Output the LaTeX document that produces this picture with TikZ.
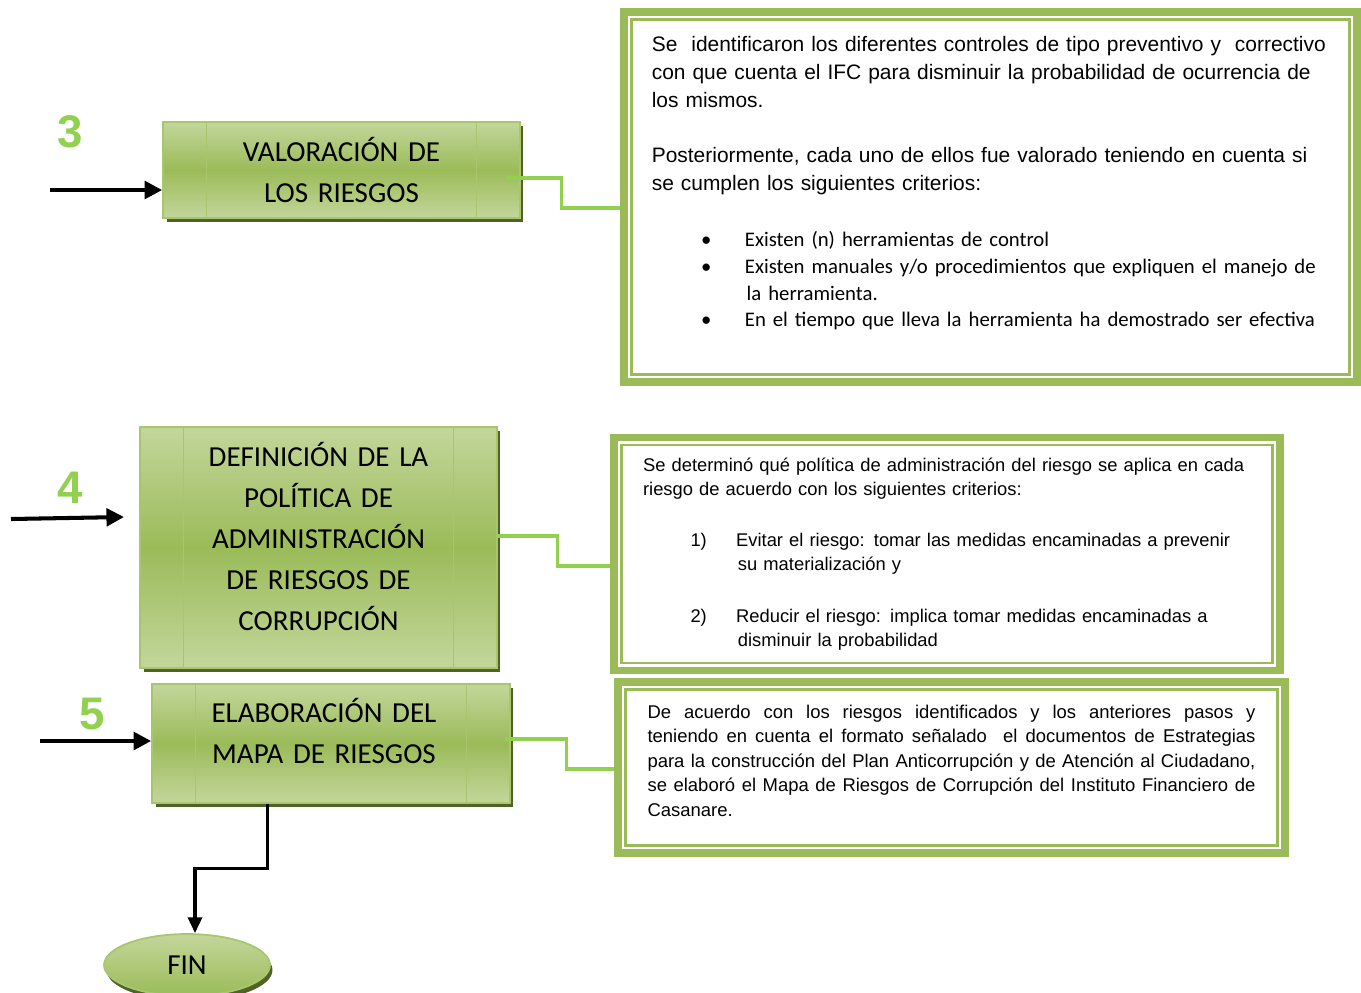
\documentclass[tikz,border=0pt]{standalone}
\usepackage{fontspec}
\setmainfont{Liberation Sans}
\newfontfamily\calibrif{Carlito}
\usetikzlibrary{shapes.geometric,shadows,arrows.meta}
\hyphenpenalty=10000

\definecolor{boxlight}{HTML}{C3D69B}
\definecolor{boxmid}{HTML}{9BBB59}
\definecolor{boxedge}{HTML}{A9C66E}
\definecolor{boxshadow}{HTML}{4F6228}
\definecolor{linkgreen}{HTML}{92D050}
\definecolor{framegreen}{HTML}{9BBB59}

\tikzset{
  stepbox/.style={rectangle, draw=boxedge, line width=1pt,
    top color=boxlight, bottom color=boxlight, middle color=boxmid,
    general shadow={fill=boxshadow, shadow xshift=0.07cm, shadow yshift=-0.08cm},
    minimum width=7.14cm, text width=5.4cm, align=center,
    font=\calibrif\fontsize{16.5}{23.3}\selectfont,
    path picture={
      \draw[boxedge, line width=1pt]
        ([xshift=0.87cm]path picture bounding box.north west) -- ([xshift=0.87cm]path picture bounding box.south west)
        ([xshift=-0.87cm]path picture bounding box.north east) -- ([xshift=-0.87cm]path picture bounding box.south east);
    }},
  endnode/.style={ellipse, draw=boxedge, line width=1pt,
    top color=boxlight, bottom color=boxmid,
    general shadow={fill=boxshadow, shadow xshift=0.05cm, shadow yshift=-0.1cm},
    minimum width=3.32cm, minimum height=1.24cm,
    font=\calibrif\fontsize{16.5}{20}\selectfont},
  notebox/.style={rectangle, draw=framegreen, line width=4.5pt, fill=white,
    align=left,
    path picture={\draw[framegreen, line width=1.6pt]
      ([shift={(0.15cm,-0.15cm)}]path picture bounding box.north west) rectangle
      ([shift={(-0.15cm,0.15cm)}]path picture bounding box.south east);}},
  stepnum/.style={text=linkgreen, font=\bfseries\fontsize{26}{26}\selectfont},
  flow/.style={draw=black, line width=2.3pt, -{Triangle[length=10pt,width=10pt]}},
  endflow/.style={draw=black, line width=1.8pt, -{Triangle[length=9pt,width=8pt]}},
  link/.style={draw=linkgreen, line width=1.8pt}
}

\begin{document}
\begin{tikzpicture}[x=0.02cm, y=-0.02cm]
  \useasboundingbox (0,0) rectangle (1361,992);

  % step boxes
  \node[stepbox, minimum height=1.92cm] (v3) at (341.5,170) {VALORACIÓN DE\\LOS RIESGOS};
  \node[stepbox, minimum height=4.82cm] (d4) at (318.5,547.5)
    {DEFINICIÓN DE LA\\POLÍTICA DE\\ADMINISTRACIÓN\\DE RIESGOS DE\\CORRUPCIÓN\rule[-12.5pt]{0pt}{0pt}};
  \node[stepbox, minimum height=2.38cm, minimum width=7.16cm] (e5) at (331,743.5)
    {ELABORACIÓN DEL\hspace*{8pt}\rule{0pt}{0pt}\\MAPA DE RIESGOS\hspace*{8pt}\rule[-14.7pt]{0pt}{0pt}};
  \node[endnode] (fin) at (187,965) {FIN};

  % step numbers
  \node[stepnum] (n3) at (70,132) {3};
  \node[stepnum] (n4) at (70,488) {4};
  \node[stepnum] (n5) at (92,714) {5};

  % note boxes
  \node[notebox, minimum width=14.66cm, minimum height=7.4cm, text width=13.55cm,
        font=\fontsize{11.92}{15.9}\selectfont] (t3) at (990.5,197) {%
    Se\ \ identificaron los diferentes controles de tipo preventivo y\ \ correctivo\\
    con que cuenta el IFC para disminuir la probabilidad de ocurrencia de\\
    los mismos.\\[15.9pt]
    Posteriormente, cada uno de ellos fue valorado teniendo en cuenta si\\
    se cumplen los siguientes criterios:\par
    {\calibrif\fontsize{11.8}{15.2}\selectfont
    \vspace{16.6pt}
    \hspace*{28pt}\makebox[25pt][l]{\textbullet}Existen (n) herramientas de control\\
    \hspace*{28pt}\makebox[25pt][l]{\textbullet}Existen manuales y/o procedimientos que expliquen el manejo de\\
    \hspace*{54pt}la herramienta.\\
    \hspace*{28pt}\makebox[25pt][l]{\textbullet}En el tiempo que lleva la herramienta ha demostrado ser efectiva\rule[-17.7pt]{0pt}{0pt}\par}};

  \node[notebox, minimum width=13.32cm, minimum height=4.66cm, text width=12.16cm,
        font=\fontsize{10.45}{13.8}\selectfont] (t4) at (947,554) {%
    Se determinó qué política de administración del riesgo se aplica en cada\\
    riesgo de acuerdo con los siguientes criterios:\\[15.3pt]
    \hspace*{27pt}\makebox[26pt][l]{1)}Evitar el riesgo: tomar las medidas encaminadas a prevenir\\
    \hspace*{54pt}su materialización y\\[15.6pt]
    \hspace*{27pt}\makebox[26pt][l]{2)}Reducir el riesgo: implica tomar medidas encaminadas a\\
    \hspace*{54pt}disminuir la probabilidad};

  \node[notebox, align=justify, minimum width=13.34cm, minimum height=3.42cm, text width=12.16cm,
        font=\fontsize{10.5}{13.9}\selectfont] (t5) at (951.5,767.5) {%
    De acuerdo con los riesgos identificados y los anteriores pasos y\linebreak
    teniendo en cuenta el formato señalado\ \ el documentos de Estrategias\linebreak
    para la construcción del Plan Anticorrupción y de Atención al Ciudadano,\linebreak
    se elaboró el Mapa de Riesgos de Corrupción del Instituto Financiero de\linebreak
    Casanare.\rule[-8pt]{0pt}{0pt}};

  % incoming arrows
  \coordinate (in3) at (50,190);
  \coordinate (in4) at (11,519);
  \coordinate (end4) at (124,517);
  \coordinate (in5) at (40,741);
  \draw[flow] (in3) -- (in3 -| v3.west);
  \draw[flow] (in4) -- (end4);
  \draw[flow] (in5) -- (in5 -| e5.west);

  % links to notes
  \draw[link] ([xshift=-0.3cm,yshift=-0.16cm]v3.east) -- ++(56,0) |- ([yshift=-0.22cm]t3.west);
  \draw[link] ([yshift=0.23cm]d4.east) -- ++(60,0) |- ([yshift=-0.24cm]t4.west);
  \draw[link] ([xshift=-0.12cm,yshift=0.09cm]e5.east) -- ++(62,0) |- ([yshift=-0.03cm]t5.west);

  % to the end
  \draw[endflow] ([xshift=2.32cm]e5.south west) -- ++(0,65) -| ([xshift=0.16cm]fin.north);
\end{tikzpicture}
\end{document}
